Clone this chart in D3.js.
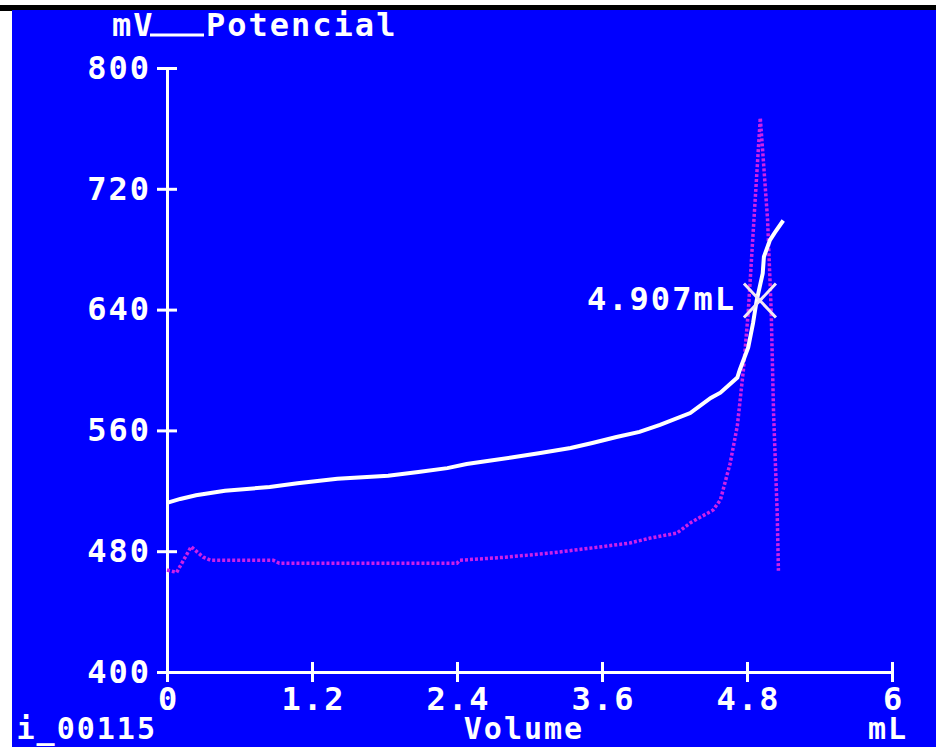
<!DOCTYPE html>
<html lang="es">
    <head>
        <meta charset="UTF-8" />
        <title>Potencial vs Volume</title>
        <script src="https://cdn.jsdelivr.net/npm/d3@7/dist/d3.min.js"></script>
    </head>
    <body style="padding: 0; margin: 0; background-color: #fff;">
        <script>
            // datos
            const potVolume = [0, 0.11, 0.24, 0.48, 0.85, 1.08, 1.41, 1.83, 2.08, 2.32, 2.48, 2.68, 2.85, 3.09, 3.34, 3.52, 3.72, 3.91, 4.08, 4.33, 4.5, 4.58, 4.72, 4.74, 4.81, 4.85, 4.88, 4.93, 4.94, 4.99, 5.03, 5.1];
            const potValues = [512, 514.6, 517, 520, 522.5, 525, 528, 530, 532.5, 535, 537.7, 540, 542, 545, 548.4, 551.7, 555.6, 559, 563.6, 571.5, 581.5, 585, 595, 600, 615, 631, 646, 664, 675, 686, 691, 699];
            const derVolume = [0, 0.08, 0.2, 0.3, 0.36, 0.88, 0.93, 2.4, 2.42, 2.8, 3.2, 3.4, 3.6, 3.83, 4.0, 4.22, 4.33, 4.52, 4.58, 4.66, 4.72, 4.77, 4.81, 4.85, 4.91, 4.97, 5.0, 5.02, 5.05, 5.06];
            const derValues = [467.5, 466, 483, 476, 474, 474, 472, 472, 474, 476, 479, 481, 483, 485.4, 488.7, 492, 498.7, 507.3, 514, 538, 563, 600, 638, 690, 767, 700, 640, 571, 505, 467];
            const xTicks = [0, 1.2, 2.4, 3.6, 4.8, 6];
            const yTicks = [400, 480, 560, 640, 720, 800];
            const endPoint = { volume: 4.907, mv: 646, label: '4.907mL' };

            const width = 936;
            const height = 747;
            const font = "bold 32px 'DejaVu Sans Mono', monospace";

            const svg = d3
                .select('body')
                .append('svg')
                .attr('width', width)
                .attr('height', height)
                .style('display', 'block');

            svg.append('clipPath')
                .attr('id', 'screen')
                .append('rect')
                .attr('x', 12)
                .attr('y', 10)
                .attr('width', width - 12)
                .attr('height', height - 10);

            // borde negro arriba y pantalla azul
            svg.append('rect')
                .attr('x', 0)
                .attr('y', 5)
                .attr('width', width)
                .attr('height', 6)
                .attr('fill', '#000');
            svg.append('rect')
                .attr('x', 12)
                .attr('y', 10)
                .attr('width', width - 12)
                .attr('height', height - 10)
                .attr('fill', '#0000ff');

            const g = svg.append('g').attr('clip-path', 'url(#screen)');

            const x = d3.scaleLinear().domain([0, 6]).range([167, 892]);
            const y = d3.scaleLinear().domain([400, 800]).range([672, 68]);

            const text = (sel) =>
                sel
                    .attr('fill', '#fff')
                    .style('font', font)
                    .style('letter-spacing', '2px');

            // eje y
            const yAxis = g
                .append('g')
                .attr('transform', `translate(${x(0)},0)`)
                .call(d3.axisLeft(y).tickValues(yTicks).tickSize(0).tickPadding(16).tickFormat(d3.format('d')));
            yAxis.select('.domain').attr('stroke', '#fff').attr('stroke-width', 3);
            yAxis.selectAll('.tick line').attr('x1', -10).attr('x2', 10).attr('stroke', '#fff').attr('stroke-width', 3);
            yAxis.selectAll('.tick text').call(text);

            // eje x
            const xAxis = g
                .append('g')
                .attr('transform', `translate(0,${y(400)})`)
                .call(d3.axisBottom(x).tickValues(xTicks).tickSize(0).tickPadding(15).tickFormat((d) => String(d)));
            xAxis.select('.domain').attr('stroke', '#fff').attr('stroke-width', 3);
            xAxis.selectAll('.tick line').attr('y1', -10).attr('y2', 10).attr('stroke', '#fff').attr('stroke-width', 3);
            xAxis.selectAll('.tick text').call(text).attr('dx', 1);

            // curva derivada (punteada)
            const derLine = d3
                .line()
                .x((d, i) => x(derVolume[i]))
                .y((d) => y(d));
            g.append('path')
                .attr('d', derLine(derValues))
                .attr('fill', 'none')
                .attr('stroke', '#cc22e8')
                .attr('stroke-width', 3.5)
                .attr('stroke-dasharray', '3,2');

            // curva de potencial
            const potLine = d3
                .line()
                .x((d, i) => x(potVolume[i]))
                .y((d) => y(d));
            g.append('path')
                .attr('d', potLine(potValues))
                .attr('fill', 'none')
                .attr('stroke', '#fff')
                .attr('stroke-width', 4);

            // punto final marcado con X
            const cx = x(endPoint.volume);
            const cy = y(endPoint.mv);
            g.append('path')
                .attr('d', `M${cx - 16},${cy - 17}L${cx + 16},${cy + 17}M${cx + 16},${cy - 17}L${cx - 16},${cy + 17}`)
                .attr('stroke', '#f4e8f4')
                .attr('stroke-width', 3);
            g.append('text')
                .attr('x', cx - 24)
                .attr('y', cy + 9)
                .attr('text-anchor', 'end')
                .text(endPoint.label)
                .call(text);

            // leyenda y unidades
            g.append('text').attr('x', 112).attr('y', 36).text('mV').call(text);
            g.append('line')
                .attr('x1', 150)
                .attr('x2', 204)
                .attr('y1', 35)
                .attr('y2', 35)
                .attr('stroke', '#fff')
                .attr('stroke-width', 3);
            g.append('text').attr('x', 206).attr('y', 36).text('Potencial').call(text);

            // fila inferior, algo menor para que quepa
            const bottom = (sel) => sel.call(text).style('font-size', '30px');
            g.append('text').attr('x', 524).attr('y', 739).attr('text-anchor', 'middle').text('Volume').call(bottom);
            g.append('text').attr('x', 888).attr('y', 739).attr('text-anchor', 'middle').text('mL').call(bottom);
            g.append('text').attr('x', 157).attr('y', 739).attr('text-anchor', 'end').text('i_00115').call(bottom);
        </script>
    </body>
</html>
